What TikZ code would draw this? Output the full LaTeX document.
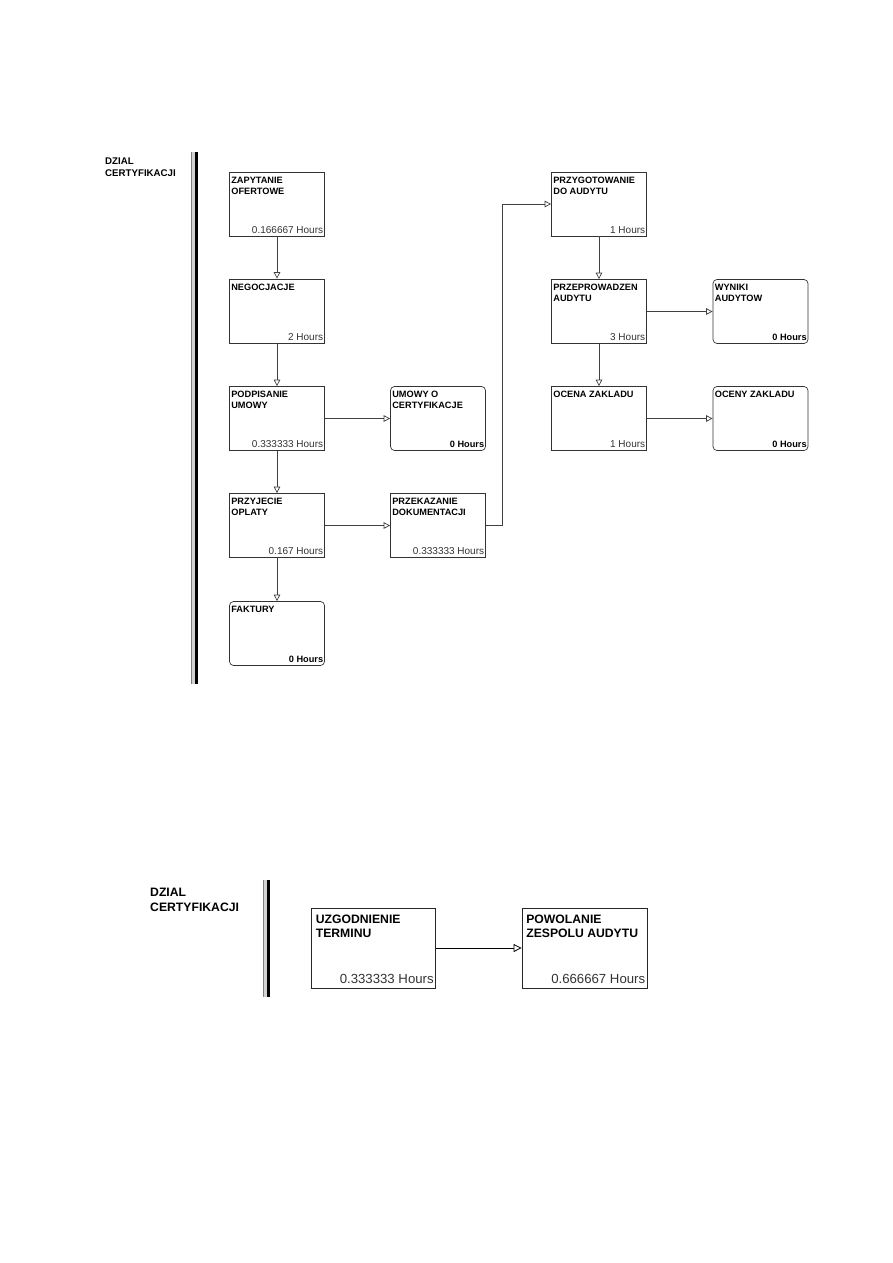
\documentclass[tikz,border=0pt]{standalone}
\usepackage{fontspec}
\setmainfont{Liberation Sans}
\usepackage{tikz}
\usetikzlibrary{arrows.meta,positioning}

\begin{document}
\begin{tikzpicture}[x=1pt, y=-1pt,
  box/.style={draw=black!80, line width=0.7pt, minimum width=95pt, minimum height=64pt, inner sep=0pt},
  store/.style={box, rounded corners=4pt},
  bigbox/.style={draw=black!85, line width=0.8pt, minimum width=124pt, minimum height=80pt, inner sep=0pt},
  ttl/.style={anchor=north west, align=left, inner xsep=2pt, inner ysep=5pt, font=\fontsize{9.2}{11}\selectfont\bfseries},
  hrs/.style={anchor=south east, inner xsep=1.5pt, inner ysep=3pt, text=black!80, font=\fontsize{10}{11}\selectfont},
  zero/.style={hrs, text=black, font=\fontsize{9.2}{11}\selectfont\bfseries},
  bigttl/.style={anchor=north west, align=left, inner xsep=4.5pt, inner ysep=7pt, font=\fontsize{12.2}{14}\selectfont\bfseries},
  bighrs/.style={anchor=south east, inner xsep=2pt, inner ysep=5pt, text=black!80, font=\fontsize{13.2}{15}\selectfont},
  lane/.style={anchor=north west, align=left, inner sep=0pt},
  arrow/.style={-{Triangle[open, length=6.5pt, width=6.5pt]}, draw=black!75, line width=0.7pt},
  bigarrow/.style={-{Triangle[open, length=8pt, width=8pt]}, draw=black, line width=0.8pt}
]
\useasboundingbox (0,0) rectangle (893,1263);

% upper swimlane
\node[lane, font=\fontsize{9.7}{12}\selectfont\bfseries] (lane1) at (105,157.5) {DZIAL\\CERTYFIKACJI};
\fill[gray!35] (191,152) rectangle (195,684);
\draw[gray, line width=0.5pt] (191.25,152) -- (191.25,684);
\fill[black] (195,152) rectangle (197.5,684);

\node[box, label={[ttl]north west:ZAPYTANIE\\OFERTOWE}, label={[hrs]south east:0.166667 Hours}] (zapytanie) at (277,204) {};
\node[box, label={[ttl]north west:NEGOCJACJE}, label={[hrs]south east:2 Hours}] (negocjacje) at (277,311) {};
\node[box, label={[ttl]north west:PODPISANIE\\UMOWY}, label={[hrs]south east:0.333333 Hours}] (podpisanie) at (277,418.5) {};
\node[store, label={[ttl]north west:UMOWY O\\CERTYFIKACJE}, label={[zero]south east:0 Hours}] (umowy) at (438,418.5) {};
\node[box, label={[ttl]north west:PRZYJECIE\\OPLATY}, label={[hrs]south east:0.167 Hours}] (przyjecie) at (277,525.5) {};
\node[box, label={[ttl]north west:PRZEKAZANIE\\DOKUMENTACJI}, label={[hrs]south east:0.333333 Hours}] (przekazanie) at (438,525.5) {};
\node[store, label={[ttl]north west:FAKTURY}, label={[zero]south east:0 Hours}] (faktury) at (277,633.5) {};

\node[box, label={[ttl]north west:PRZYGOTOWANIE\\DO AUDYTU}, label={[hrs]south east:1 Hours}] (przygotowanie) at (599,204) {};
\node[box, label={[ttl]north west:PRZEPROWADZEN\\AUDYTU}, label={[hrs]south east:3 Hours}] (przeprowadzenie) at (599,311.5) {};
\node[store, label={[ttl]north west:WYNIKI\\AUDYTOW}, label={[zero]south east:0 Hours}] (wyniki) at (760.5,311.5) {};
\node[box, label={[ttl]north west:OCENA ZAKLADU}, label={[hrs]south east:1 Hours}] (ocena) at (599,418.5) {};
\node[store, label={[ttl]north west:OCENY ZAKLADU}, label={[zero]south east:0 Hours}] (oceny) at (760.5,418.5) {};

\draw[arrow] (zapytanie) -- (negocjacje);
\draw[arrow] (negocjacje) -- (podpisanie);
\draw[arrow] (podpisanie) -- (umowy);
\draw[arrow] (podpisanie) -- (przyjecie);
\draw[arrow] (przyjecie) -- (przekazanie);
\draw[arrow] (przyjecie) -- (faktury);
\draw[arrow] (przekazanie.east) -- ++(16,0) |- (przygotowanie.west);
\draw[arrow] (przygotowanie) -- (przeprowadzenie);
\draw[arrow] (przeprowadzenie) -- (wyniki);
\draw[arrow] (przeprowadzenie) -- (ocena);
\draw[arrow] (ocena) -- (oceny);

% lower swimlane
\node[lane, font=\fontsize{12.2}{14.5}\selectfont\bfseries] (lane2) at (150,888) {DZIAL\\CERTYFIKACJI};
\fill[gray!35] (263,880) rectangle (267,997);
\draw[gray, line width=0.5pt] (263.25,880) -- (263.25,997);
\fill[black] (267,880) rectangle (269.5,997);

\node[bigbox, label={[bigttl]north west:UZGODNIENIE\\TERMINU}, label={[bighrs]south east:0.333333 Hours}] (uzgodnienie) at (373.5,948) {};
\node[bigbox, minimum width=125pt, label={[bigttl]north west:POWOLANIE\\ZESPOLU AUDYTU}, label={[bighrs]south east:0.666667 Hours}] (powolanie) at (584.5,948) {};
\draw[bigarrow] (uzgodnienie) -- (powolanie);
\end{tikzpicture}
\end{document}
